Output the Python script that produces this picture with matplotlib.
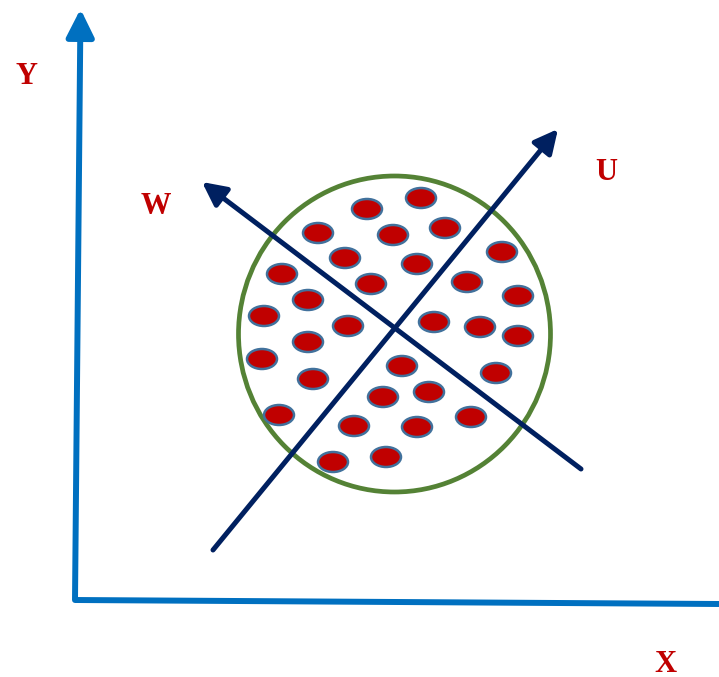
import matplotlib
matplotlib.use("Agg")
import matplotlib.pyplot as plt
from matplotlib.patches import Ellipse, FancyArrowPatch

# Data: point centers (pixel coordinates, y downward)
dot_x = [421, 367, 318, 393, 445, 345, 417, 502, 282, 371, 467, 308, 518, 264, 348,
         434, 480, 518, 262, 308, 402, 313, 496, 383, 429, 279, 354, 417, 471, 333, 386]
dot_y = [198, 209, 233, 235, 228, 258, 264, 252, 274, 284, 282, 300, 296, 316, 326,
         322, 327, 336, 359, 342, 366, 379, 373, 397, 392, 415, 426, 427, 417, 462, 457]

labels = ["Y", "W", "U", "X"]
label_x = [27, 156, 606, 665]
label_y = [76, 206, 172, 664]

W, H = 719, 677
fig = plt.figure(figsize=(W / 100, H / 100), dpi=100)
ax = fig.add_axes([0, 0, 1, 1])
ax.set_xlim(0, W)
ax.set_ylim(H, 0)
ax.axis("off")

blue = "#0070C0"
navy = "#002060"
red = "#C00000"
green = "#548235"

# Axes arrows
ax.plot([75, 719], [600, 604], color=blue, lw=4.3, solid_capstyle="butt")
ax.add_patch(FancyArrowPatch((75, 600), (80.5, 9), arrowstyle="-|>,head_length=1.2,head_width=0.6",
                             mutation_scale=14, color=blue, lw=4.3, shrinkA=0, shrinkB=0))

# Ellipse
ax.add_patch(Ellipse((394.5, 334), 312, 316, fill=False, edgecolor=green, lw=3.4))

# Dots
for x, y in zip(dot_x, dot_y):
    ax.add_patch(Ellipse((x, y), 30, 20, facecolor=red, edgecolor="#41719C", lw=1.8, zorder=3))

# U and W arrows
ax.add_patch(FancyArrowPatch((213, 550), (558, 129), arrowstyle="-|>,head_length=1.1,head_width=0.55",
                             mutation_scale=13, color=navy, lw=3.6, shrinkA=0, shrinkB=0, zorder=4))
ax.add_patch(FancyArrowPatch((581, 469), (202, 182), arrowstyle="-|>,head_length=1.1,head_width=0.55",
                             mutation_scale=13, color=navy, lw=3.6, shrinkA=0, shrinkB=0, zorder=4))

for t, x, y in zip(labels, label_x, label_y):
    ax.text(x, y, t, color=red, fontsize=22, fontweight="bold", family="Liberation Serif",
            ha="center", va="center")

fig.savefig("out.png", dpi=100, facecolor="white")
